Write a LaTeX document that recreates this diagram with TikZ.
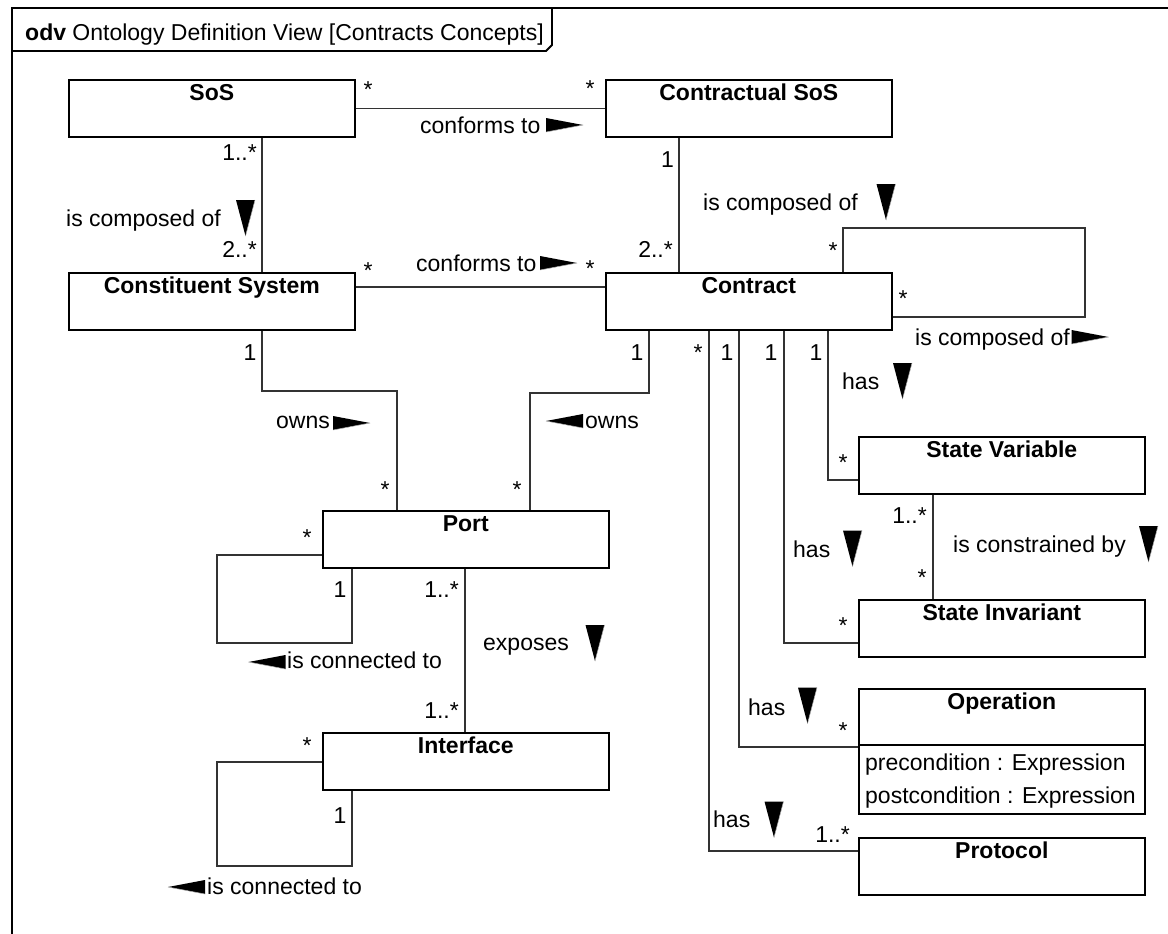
\documentclass[tikz,border=0pt]{standalone}
\usepackage{fontspec}
\setmainfont{Liberation Sans}
\usetikzlibrary{calc}
\tikzset{
  cls/.style={draw=black, line width=1.6pt, fill=white, minimum width=286pt, minimum height=57pt, inner sep=0pt, anchor=north west},
  ttl/.style={font=\bfseries\fontsize{23}{27}\selectfont, anchor=base, inner sep=0pt},
  lbl/.style={font=\fontsize{23}{27}\selectfont, inner sep=0pt},
  conn/.style={draw=black!80, line width=1.1pt},
  frm/.style={draw=black, line width=1.8pt},
  downtri/.pic={\fill[black] (-9.5,-18) -- (9.5,-18) -- (0,18) -- cycle; \draw[gray!60, line width=0.5pt] (9.5,-18) -- (0,18);},
  righttri/.pic={\fill[black] (-18.5,-7) -- (-18.5,7) -- (18.5,0) -- cycle; \draw[gray!60, line width=0.5pt] (-18.5,7) -- (18.5,0);},
  lefttri/.pic={\fill[black] (18.5,-7) -- (18.5,7) -- (-18.5,0) -- cycle; \draw[gray!60, line width=0.5pt] (18.5,7) -- (-18.5,0);},
}
\begin{document}
\begin{tikzpicture}[x=1pt, y=-1pt]
\useasboundingbox (0,0) rectangle (1168,934);
\clip (0,0) rectangle (1168,934);
\fill[white] (0,0) rectangle (1168,934);
% frame
\draw[frm] (12,960) -- (12,8) -- (1190,8);
\draw[frm] (12,51) -- (546,51) -- (552,45) -- (552,8);
\node[lbl, anchor=base west] (frametitle) at (25,41) {\textbf{odv} Ontology Definition View [Contracts Concepts]};

% helper corners
\coordinate (loopc) at (1085,228);
\coordinate (c1) at (397,391);
\coordinate (c2) at (530,393);
\coordinate (pl) at (217,643);
\coordinate (il) at (217,866);

% classes
\node[cls] (sos) at (68,79) {};
\node[ttl] (sosT) at ($(sos.north)+(0,21)$) {SoS};
\node[cls] (csos) at (605,79) {};
\node[ttl] (csosT) at ($(csos.north)+(0,21)$) {Contractual SoS};
\node[cls] (cs) at (68,272) {};
\node[ttl] (csT) at ($(cs.north)+(0,21)$) {Constituent System};
\node[cls] (ct) at (605,272) {};
\node[ttl] (ctT) at ($(ct.north)+(0,21)$) {Contract};
\node[cls] (port) at (322,510) {};
\node[ttl] (portT) at ($(port.north)+(0,21)$) {Port};
\node[cls] (if) at (322,732) {};
\node[ttl] (ifT) at ($(if.north)+(0,21)$) {Interface};
\node[cls] (sv) at (858,436) {};
\node[ttl] (svT) at ($(sv.north)+(0,21)$) {State Variable};
\node[cls] (si) at (858,599) {};
\node[ttl] (siT) at ($(si.north)+(0,21)$) {State Invariant};
\node[cls, minimum height=125pt] (op) at (858,688) {};
\node[ttl] (opT) at ($(op.north)+(0,21)$) {Operation};
\draw[line width=1.6pt] ([yshift=-57pt]op.north west) -- ([yshift=-57pt]op.north east);
\node[lbl, anchor=base west] (pre) at (865,770) {precondition : Expression};
\node[lbl, anchor=base west] (post) at (865,803) {postcondition : Expression};
\node[cls] (pr) at (858,837) {};
\node[ttl] (prT) at ($(pr.north)+(0,21)$) {Protocol};

% connectors
\draw[conn] (sos.east) -- (csos.west);
\draw[conn] ([xshift=194pt]sos.south west) -- ([xshift=194pt]cs.north west);
\draw[conn] ([xshift=74pt]csos.south west) -- ([xshift=74pt]ct.north west);
\draw[conn] ([yshift=-15pt]cs.north east) -- ([yshift=-15pt]ct.north west);
\draw[conn] ([xshift=238pt]ct.north west) |- (loopc) |- ([yshift=-45pt]ct.north east);
\draw[conn] ([xshift=194pt]cs.south west) |- (c1) -- ([xshift=75pt]port.north west);
\draw[conn] ([xshift=44pt]ct.south west) |- (c2) -- ([xshift=208pt]port.north west);
\draw[conn] ([xshift=223pt]ct.south west) |- ([yshift=-44pt]sv.north west);
\draw[conn] ([xshift=179pt]ct.south west) |- ([yshift=-44pt]si.north west);
\draw[conn] ([xshift=134pt]ct.south west) |- ([yshift=-59pt]op.north west);
\draw[conn] ([xshift=104pt]ct.south west) |- ([yshift=-14pt]pr.north west);
\draw[conn] ([xshift=75pt]sv.south west) -- ([xshift=75pt]si.north west);
\draw[conn] ([yshift=-45pt]port.north west) -| (pl) -| ([xshift=30pt]port.south west);
\draw[conn] ([xshift=143pt]port.south west) -- ([xshift=143pt]if.north west);
\draw[conn] ([yshift=-30pt]if.north west) -| (il) -| ([xshift=30pt]if.south west);

% multiplicities and labels
\node[lbl, anchor=base] (m1) at (368,98) {*};
\node[lbl, anchor=base] (m2) at (590,96) {*};
\node[lbl, anchor=base west] (l1) at (420,133) {conforms to};
\pic at (564.5,125) {righttri};
\node[lbl, anchor=base east] (m3) at (257,160) {1..*};
\node[lbl, anchor=base west] (l2) at (66,226) {is composed of};
\pic at (245.5,218) {downtri};
\node[lbl, anchor=base east] (m4) at (257,257) {2..*};
\node[lbl, anchor=base east] (m5) at (674,167) {1};
\node[lbl, anchor=base west] (l3) at (703,210) {is composed of};
\pic at (886,202) {downtri};
\node[lbl, anchor=base east] (m6) at (673,257) {2..*};
\node[lbl, anchor=base] (m7) at (368,278) {*};
\node[lbl, anchor=base west] (l4) at (416,271) {conforms to};
\pic at (558.5,263) {righttri};
\node[lbl, anchor=base] (m8) at (590,276) {*};
\node[lbl, anchor=base] (m9) at (833,258) {*};
\node[lbl, anchor=base] (m10) at (903,306) {*};
\node[lbl, anchor=base west] (l5) at (915,345) {is composed of};
\pic at (1090,337) {righttri};
\node[lbl, anchor=base] (m11) at (250,360) {1};
\node[lbl, anchor=base west] (l6) at (276,428) {owns};
\pic at (351.5,423) {righttri};
\node[lbl, anchor=base] (m12) at (385,497) {*};
\node[lbl, anchor=base] (m13) at (637,360) {1};
\node[lbl, anchor=base] (m14) at (698,360) {*};
\node[lbl, anchor=base] (m15) at (727,360) {1};
\node[lbl, anchor=base] (m16) at (771,360) {1};
\node[lbl, anchor=base] (m17) at (816,360) {1};
\pic at (564.5,421) {lefttri};
\node[lbl, anchor=base west] (l7) at (585,428) {owns};
\node[lbl, anchor=base] (m18) at (517,497) {*};
\node[lbl, anchor=base west] (l8) at (842,389) {has};
\pic at (902.5,381) {downtri};
\node[lbl, anchor=base] (m19) at (843,470) {*};
\node[lbl, anchor=base east] (m20) at (927,523) {1..*};
\node[lbl, anchor=base] (m21) at (922,585) {*};
\node[lbl, anchor=base west] (l9) at (953,552) {is constrained by};
\pic at (1148.5,544) {downtri};
\node[lbl, anchor=base west] (l10) at (793,557) {has};
\pic at (852.5,548.5) {downtri};
\node[lbl, anchor=base] (m22) at (843,633) {*};
\node[lbl, anchor=base west] (l11) at (748,715) {has};
\pic at (807.5,705.5) {downtri};
\node[lbl, anchor=base] (m23) at (843,738) {*};
\node[lbl, anchor=base west] (l12) at (713,827) {has};
\pic at (774,819.5) {downtri};
\node[lbl, anchor=base east] (m24) at (850,842) {1..*};
\node[lbl, anchor=base] (m25) at (307,545) {*};
\node[lbl, anchor=base] (m26) at (340,597) {1};
\pic at (267,662) {lefttri};
\node[lbl, anchor=base west] (l13) at (287,668) {is connected to};
\node[lbl, anchor=base east] (m27) at (459,597) {1..*};
\node[lbl, anchor=base west] (l14) at (483,650) {exposes};
\pic at (595,643) {downtri};
\node[lbl, anchor=base east] (m28) at (459,718) {1..*};
\node[lbl, anchor=base] (m29) at (307,753) {*};
\node[lbl, anchor=base] (m30) at (340,823) {1};
\pic at (186.5,887) {lefttri};
\node[lbl, anchor=base west] (l15) at (207,894) {is connected to};
\end{tikzpicture}
\end{document}
